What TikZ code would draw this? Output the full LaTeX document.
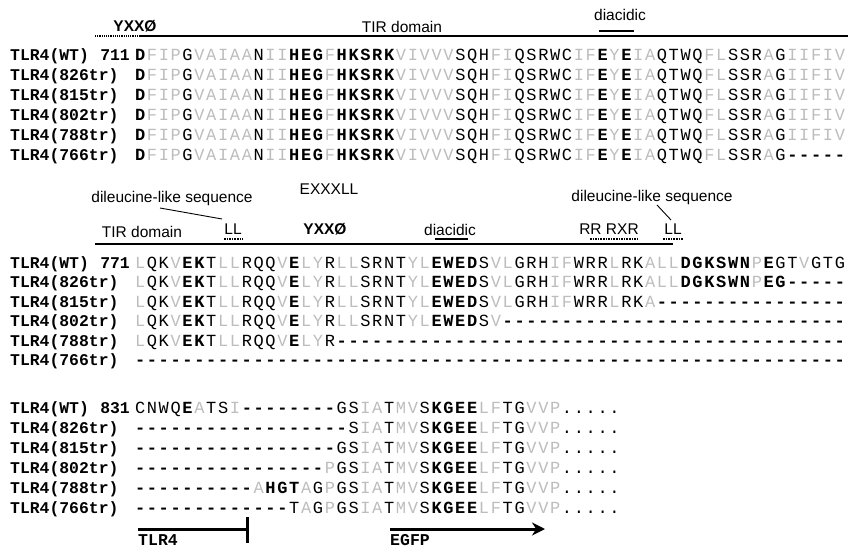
\documentclass[tikz,border=0pt]{standalone}
\usepackage{fontspec}
\setmonofont{Liberation Mono}
\setsansfont{Liberation Sans}
\usetikzlibrary{arrows.meta}
\definecolor{faintc}{gray}{0.74}
\newlength\sqw \setlength\sqw{11.86pt}
\newif\ifsqbold
\def\sqend{\sqend}
\newcommand\sq[1]{\sqboldfalse\sqloop#1\sqend}
\def\sqloop#1{%
  \ifx#1\sqend\let\sqnext\relax
  \else
    \ifx#1*\ifsqbold\sqboldfalse\else\sqboldtrue\fi
    \else\sqput#1\fi
    \let\sqnext\sqloop
  \fi\sqnext}
\def\sqput#1{\makebox[\sqw][c]{\ifsqbold\bfseries\fi\ifx#1-\bfseries\fi\ifnum`#1>96 \color{faintc}\uppercase{#1}\else#1\fi}}
\tikzset{
  seq/.style={inner sep=0pt, anchor=base west, font=\fontsize{17}{18}\selectfont\ttfamily},
  lab/.style={inner sep=0pt, anchor=base west, font=\fontsize{16.4}{18}\selectfont\ttfamily\bfseries},
  num/.style={inner sep=0pt, anchor=base east, font=\fontsize{16.4}{18}\selectfont\ttfamily\bfseries},
  hdr/.style={inner sep=0pt, anchor=base, font=\fontsize{15.5}{17}\selectfont\sffamily},
  hdrb/.style={inner sep=0pt, anchor=base, font=\fontsize{15.5}{17}\selectfont\sffamily\bfseries},
  rule/.style={line width=1.2pt},
  motif/.style={line width=2.6pt},
  dotmotif/.style={line width=1.6pt, densely dotted},
  bar/.style={line width=3pt},
  btm/.style={inner sep=0pt, anchor=base west, text depth=0pt, font=\fontsize{16.5}{17}\selectfont\ttfamily\bfseries},
}
\begin{document}
\begin{tikzpicture}[x=1pt,y=-1pt]
\useasboundingbox (0,0) rectangle (851,548);
% ---------- block 1 header ----------
\node[hdrb] (h1y) at (135,32) {YXXØ};
\node[hdr] (h1t) at (402,33) {TIR domain};
\node[hdr] (h1d) at (620,21) {diacidic};
\coordinate (a1) at (95,36);
\coordinate (a2) at (140,36);
\coordinate (a3) at (848,36);
\draw[rule, densely dotted] (a1) -- (a2);
\draw[rule] (a2) -- (a3);
\coordinate (d1a) at (599,31); \coordinate (d1b) at (634,31);
\draw[motif] (d1a) -- (d1b);
% ---------- block 1 ----------
\node[lab] (l11) at (10,61) {TLR4(WT)};
\node[num] (n11) at (130,61) {711};
\node[seq] (s11) at (134,61) {\sq{*D*fipGvaiaaNii*HEG*f*HKSRK*vivvvSQHfiQSRWCif*E*y*E*iaQTWQflSSRaGiifiv}};
\node[lab] (l12) at (10,81) {TLR4(826tr)};
\node[seq] (s12) at (134,81) {\sq{*D*fipGvaiaaNii*HEG*f*HKSRK*vivvvSQHfiQSRWCif*E*y*E*iaQTWQflSSRaGiifiv}};
\node[lab] (l13) at (10,101) {TLR4(815tr)};
\node[seq] (s13) at (134,101) {\sq{*D*fipGvaiaaNii*HEG*f*HKSRK*vivvvSQHfiQSRWCif*E*y*E*iaQTWQflSSRaGiifiv}};
\node[lab] (l14) at (10,121) {TLR4(802tr)};
\node[seq] (s14) at (134,121) {\sq{*D*fipGvaiaaNii*HEG*f*HKSRK*vivvvSQHfiQSRWCif*E*y*E*iaQTWQflSSRaGiifiv}};
\node[lab] (l15) at (10,141) {TLR4(788tr)};
\node[seq] (s15) at (134,141) {\sq{*D*fipGvaiaaNii*HEG*f*HKSRK*vivvvSQHfiQSRWCif*E*y*E*iaQTWQflSSRaGiifiv}};
\node[lab] (l16) at (10,161) {TLR4(766tr)};
\node[seq] (s16) at (134,161) {\sq{*D*fipGvaiaaNii*HEG*f*HKSRK*vivvvSQHfiQSRWCif*E*y*E*iaQTWQflSSRaG-----}};
% ---------- block 2 header ----------
\node[hdr] (h2dl) at (172,203) {dileucine-like sequence};
\node[hdr] (h2ex) at (329,195) {EXXXLL};
\node[hdr] (h2t) at (142,237) {TIR domain};
\node[hdr] (h2ll) at (233,234) {LL};
\node[hdrb] (h2y) at (325,234) {YXXØ};
\node[hdr] (h2d) at (450,236) {diacidic};
\node[hdr] (h2r) at (609,234) {RR RXR};
\node[hdr] (h2l2) at (673,234) {LL};
\node[hdr] (h2dr) at (652,201) {dileucine-like sequence};
\coordinate (c1a) at (160,208); \coordinate (c1b) at (222,219);
\draw[line width=0.9pt] (c1a) -- (c1b);
\coordinate (c2a) at (657,205); \coordinate (c2b) at (671,220);
\draw[line width=0.9pt] (c2a) -- (c2b);
\coordinate (u1a) at (224,239); \coordinate (u1b) at (243,239);
\draw[dotmotif] (u1a) -- (u1b);
\coordinate (u2a) at (435,239); \coordinate (u2b) at (468,239);
\draw[motif] (u2a) -- (u2b);
\coordinate (u3a) at (590,239); \coordinate (u3b) at (638,239);
\draw[dotmotif] (u3a) -- (u3b);
\coordinate (u4a) at (663,239); \coordinate (u4b) at (683,239);
\draw[dotmotif] (u4a) -- (u4b);
\coordinate (b2a) at (95,244); \coordinate (b2b) at (673,244);
\draw[rule] (b2a) -- (b2b);
% ---------- block 2 ----------
\node[lab] (l21) at (10,268) {TLR4(WT)};
\node[num] (n21) at (130,268) {771};
\node[seq] (s21) at (134,268) {\sq{lQKv*EK*TllRQQv*E*lyRllSRNTyl*EWED*SvlGRHifWRRlRKall*DGKSWN*p*E*GTvGTG}};
\node[lab] (l22) at (10,287.5) {TLR4(826tr)};
\node[seq] (s22) at (134,287.5) {\sq{lQKv*EK*TllRQQv*E*lyRllSRNTyl*EWED*SvlGRHifWRRlRKall*DGKSWN*p*EG-----*}};
\node[lab] (l23) at (10,307) {TLR4(815tr)};
\node[seq] (s23) at (134,307) {\sq{lQKv*EK*TllRQQv*E*lyRllSRNTyl*EWED*SvlGRHifWRRlRKa----------------}};
\node[lab] (l24) at (10,326.5) {TLR4(802tr)};
\node[seq] (s24) at (134,326.5) {\sq{lQKv*EK*TllRQQv*E*lyRllSRNTyl*EWED*Sv-----------------------------}};
\node[lab] (l25) at (10,346) {TLR4(788tr)};
\node[seq] (s25) at (134,346) {\sq{lQKv*EK*TllRQQv*E*lyR-------------------------------------------}};
\node[lab] (l26) at (10,365.5) {TLR4(766tr)};
\node[seq] (s26) at (134,365.5) {\sq{------------------------------------------------------------}};
% ---------- block 3 ----------
\node[lab] (l31) at (10,413) {TLR4(WT)};
\node[num] (n31) at (130,413) {831};
\node[seq] (s31) at (134,413) {\sq{CNWQ*E*aTSi--------GSiaTmvS*KGEE*lfTGvvp.....}};
\node[lab] (l32) at (10,433) {TLR4(826tr)};
\node[seq] (s32) at (134,433) {\sq{------------------SiaTmvS*KGEE*lfTGvvp.....}};
\node[lab] (l33) at (10,453) {TLR4(815tr)};
\node[seq] (s33) at (134,453) {\sq{-----------------GSiaTmvS*KGEE*lfTGvvp.....}};
\node[lab] (l34) at (10,473) {TLR4(802tr)};
\node[seq] (s34) at (134,473) {\sq{----------------pGSiaTmvS*KGEE*lfTGvvp.....}};
\node[lab] (l35) at (10,493) {TLR4(788tr)};
\node[seq] (s35) at (134,493) {\sq{----------a*HGT*aGpGSiaTmvS*KGEE*lfTGvvp.....}};
\node[lab] (l36) at (10,513) {TLR4(766tr)};
\node[seq] (s36) at (134,513) {\sq{-------------TaGpGSiaTmvS*KGEE*lfTGvvp.....}};
% ---------- bottom bars ----------
\coordinate (t1) at (138,529); \coordinate (t2) at (247,529);
\coordinate (t3) at (247,517); \coordinate (t4) at (247,543);
\draw[bar] (t1) -- (t2);
\draw[bar] (t3) -- (t4);
\node[btm] (tl) at (138,545) {TLR4};
\coordinate (e1) at (390,529); \coordinate (e2) at (545,529);
\draw[bar, -{Stealth[length=13pt,width=13pt]}] (e1) -- (e2);
\node[btm] (el) at (390,545) {EGFP};
\end{tikzpicture}
\end{document}
